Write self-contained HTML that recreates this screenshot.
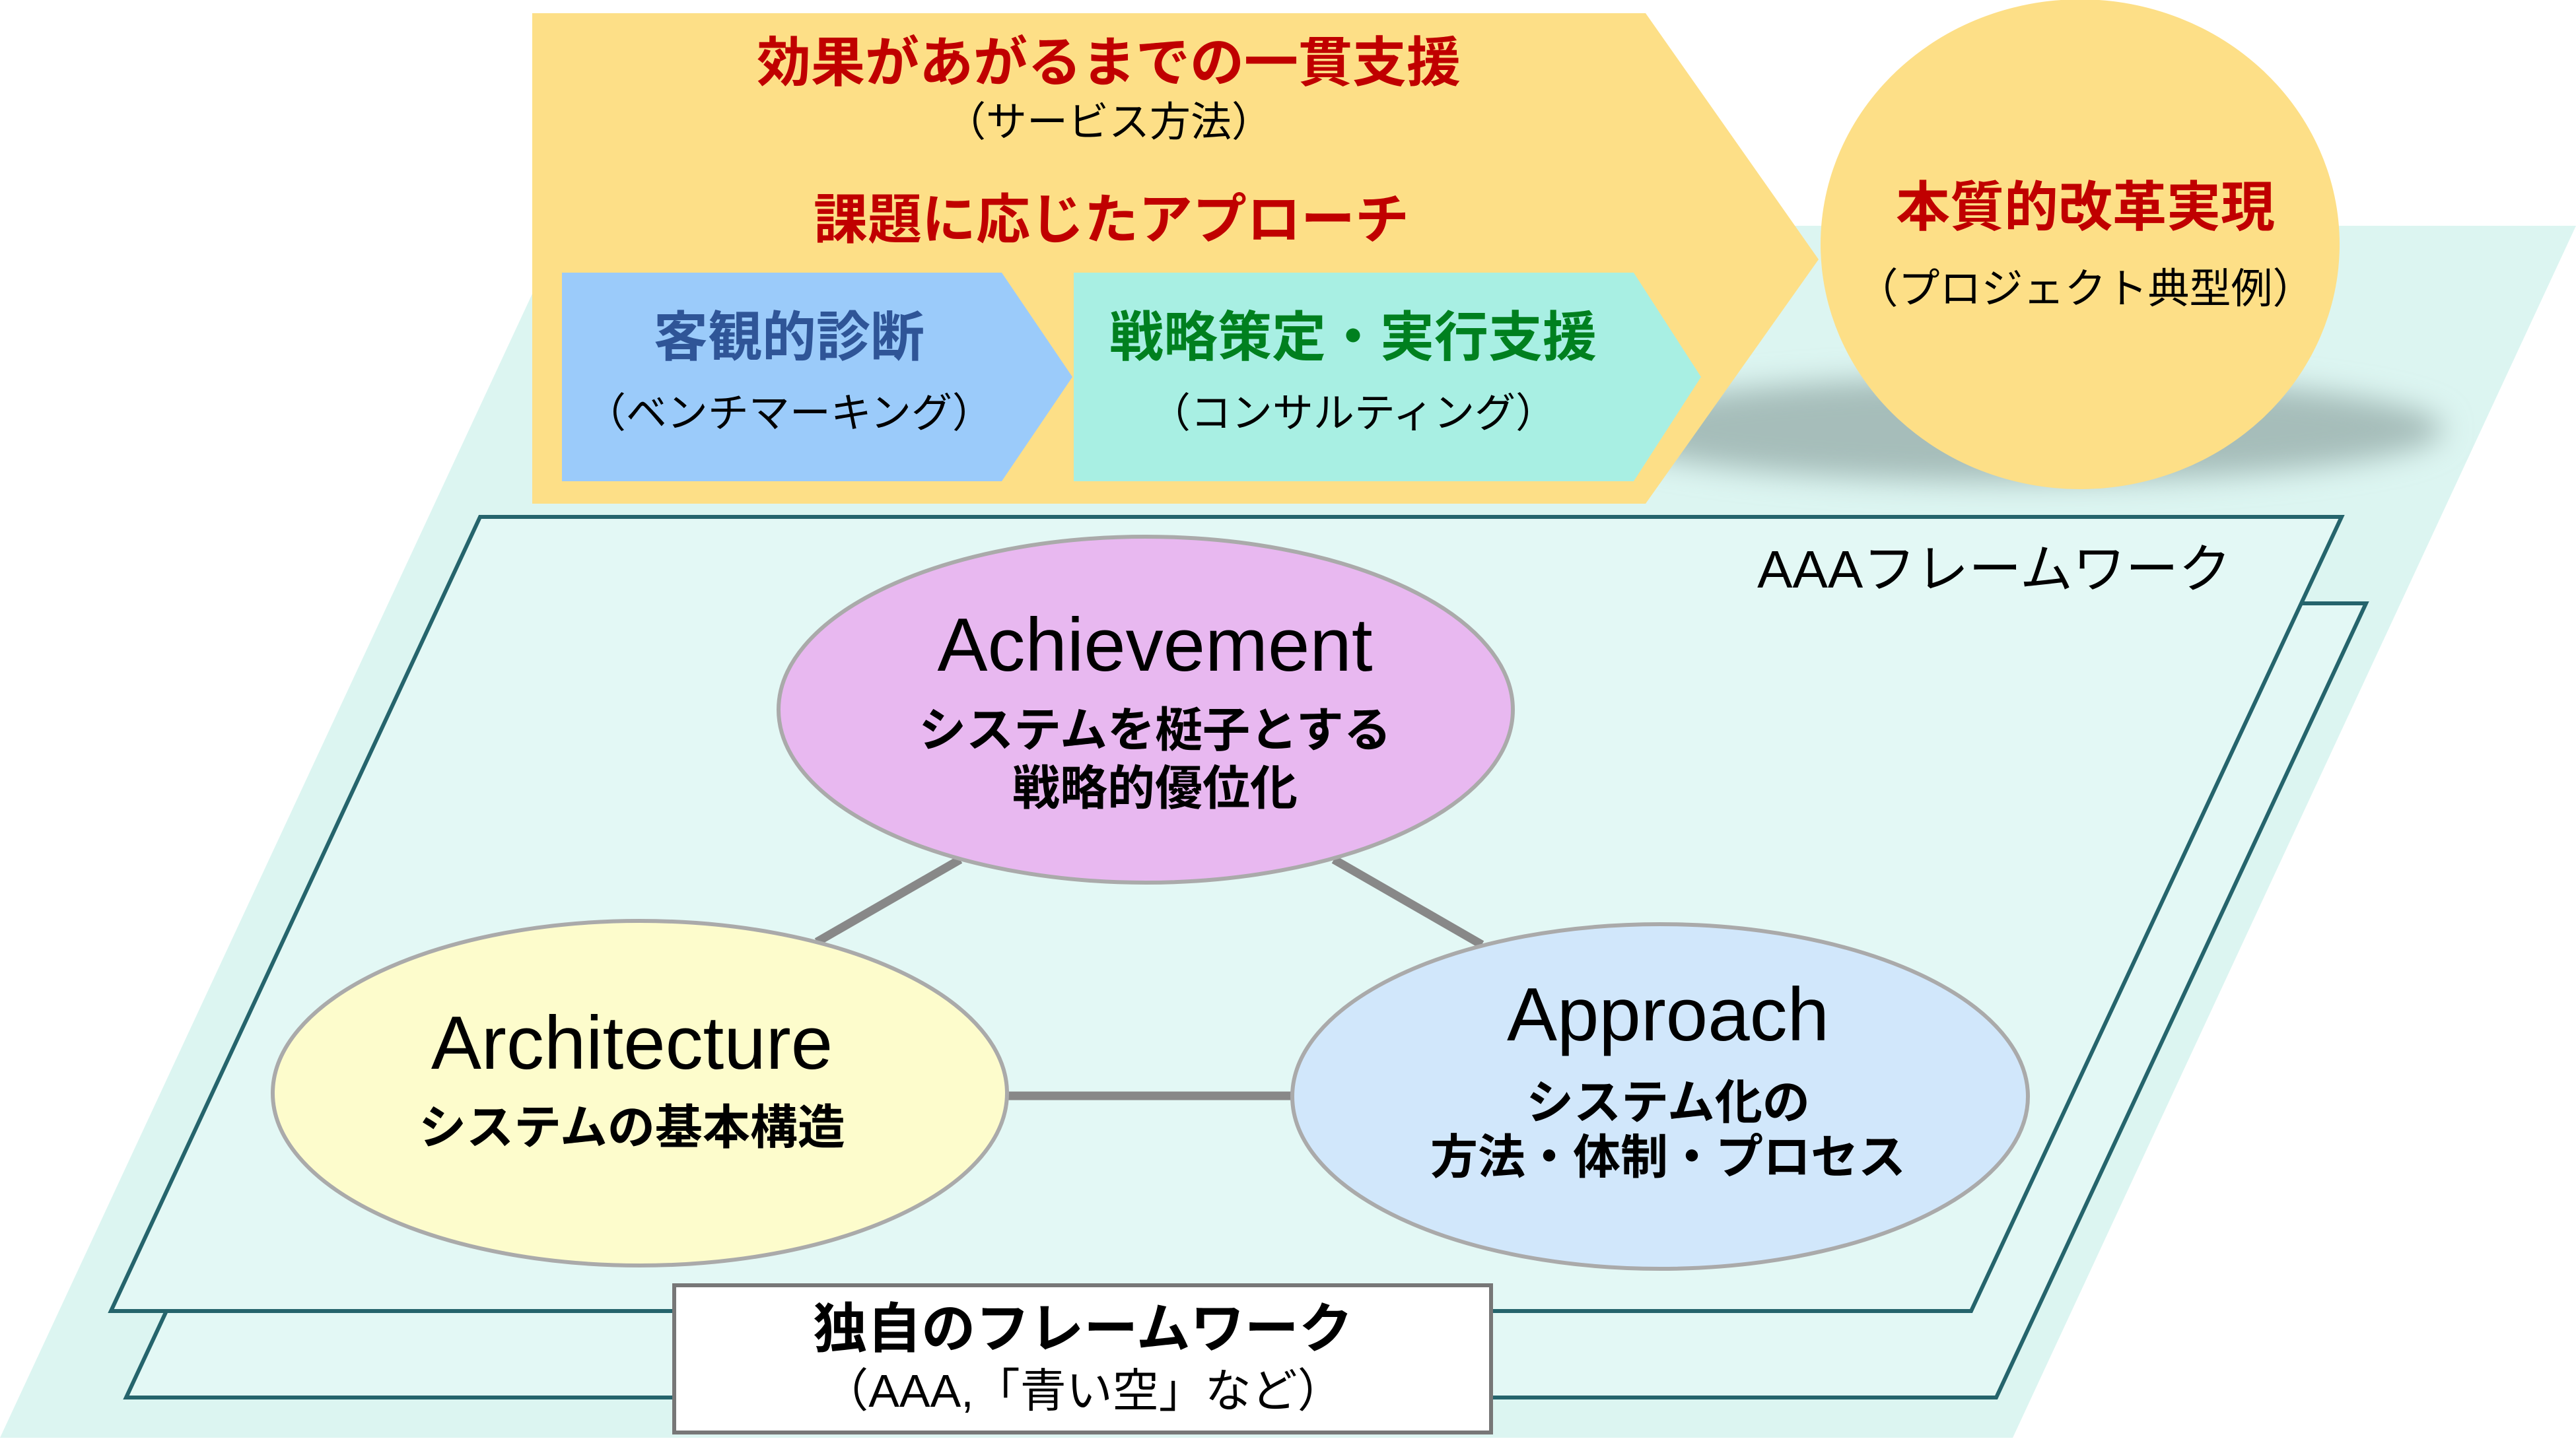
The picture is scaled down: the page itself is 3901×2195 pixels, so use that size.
<!DOCTYPE html>
<html><head><meta charset="utf-8"><style>
html,body{margin:0;padding:0;background:#fff;}
svg{display:block;}
text{font-family:"Liberation Sans","Noto Sans CJK JP",sans-serif;}
</style></head><body>
<svg width="3901" height="2195" viewBox="0 0 3901 2195" xmlns="http://www.w3.org/2000/svg">
<defs>
<filter id="blur" x="-50%" y="-100%" width="200%" height="300%"><feGaussianBlur stdDeviation="22"/></filter>
</defs>
<rect width="3901" height="2195" fill="#fff"/>
<polygon points="854,342 3901,342 3048,2178 0,2178" fill="#dcf5f1"/>
<polygon points="751,914 3583,914 3023,2117 191,2117" fill="#e3f8f5" stroke="#25646c" stroke-width="6"/>
<polygon points="727,783 3546,783 2985,1986 168,1986" fill="#e3f8f5" stroke="#25646c" stroke-width="6"/>
<ellipse cx="3060" cy="650" rx="640" ry="80" fill="#a6bdba" filter="url(#blur)"/>
<polygon points="806,20 2492,20 2754,393 2492,763 806,763" fill="#fddf87"/>
<polygon points="851,413 1517,413 1624,571 1517,729 851,729" fill="#9bcbfa"/>
<polygon points="1626,413 2474,413 2576,571 2474,729 1626,729" fill="#a8efe3"/>
<ellipse cx="3150" cy="370" rx="393" ry="371" fill="#fddf87"/>

<g text-anchor="middle">
<text x="1679" y="123" font-size="82" font-weight="bold" fill="#c00000">効果があがるまでの一貫支援</text>
<text x="1679" y="206" font-size="62" fill="#000">（サービス方法）</text>
<text x="1683" y="361" font-size="82" font-weight="bold" fill="#c00000">課題に応じたアプローチ</text>
<text x="1195" y="539" font-size="82" font-weight="bold" fill="#2f5597">客観的診断</text>
<text x="1195" y="647" font-size="62" fill="#000">（ベンチマーキング）</text>
<text x="2049" y="539" font-size="82" font-weight="bold" fill="#00801f">戦略策定・実行支援</text>
<text x="2049" y="647" font-size="62" fill="#000">（コンサルティング）</text>
<text x="3158" y="342" font-size="82" font-weight="bold" fill="#c00000">本質的改革実現</text>
<text x="3158" y="459" font-size="63" fill="#000">（プロジェクト典型例）</text>
<text x="3020" y="890" font-size="80" fill="#000">AAAフレームワーク</text>
</g>

<g stroke="#888" stroke-width="13">
<line x1="1454" y1="1302" x2="1237" y2="1427"/>
<line x1="2020" y1="1302" x2="2244" y2="1431"/>
<line x1="1520" y1="1660" x2="1962" y2="1660"/>
</g>
<ellipse cx="1735" cy="1075" rx="556" ry="262" fill="#e8b8f0" stroke="#aaa" stroke-width="6"/>
<ellipse cx="969" cy="1656" rx="556" ry="261" fill="#fdfccc" stroke="#aaa" stroke-width="6"/>
<ellipse cx="2514" cy="1661" rx="557" ry="261" fill="#d1e7fb" stroke="#aaa" stroke-width="6"/>

<g text-anchor="middle" fill="#000">
<text x="1749" y="1016" font-size="114">Achievement</text>
<text x="1749" y="1131" font-size="72" font-weight="bold">システムを梃子とする</text>
<text x="1749" y="1219" font-size="72" font-weight="bold">戦略的優位化</text>
<text x="957" y="1619" font-size="114">Architecture</text>
<text x="957" y="1733" font-size="72" font-weight="bold">システムの基本構造</text>
<text x="2526" y="1576" font-size="114">Approach</text>
<text x="2526" y="1695" font-size="72" font-weight="bold">システム化の</text>
<text x="2526" y="1778" font-size="72" font-weight="bold">方法・体制・プロセス</text>
</g>

<rect x="1021" y="1947" width="1237" height="223" fill="#fff" stroke="#777" stroke-width="6"/>
<g text-anchor="middle" fill="#000">
<text x="1640" y="2041" font-size="82" font-weight="bold">独自のフレームワーク</text>
<text x="1640" y="2131" font-size="70">（AAA,「青い空」など）</text>
</g>
</svg>
</body></html>
